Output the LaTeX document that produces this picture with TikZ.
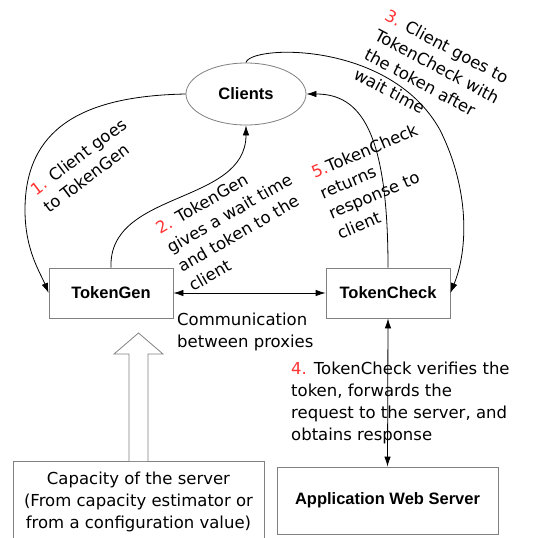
\documentclass[tikz,border=0pt]{standalone}
\usepackage{fontspec}
\setmainfont{DejaVu Sans}
\newfontfamily\boxfont{Liberation Sans}
\usetikzlibrary{shapes.geometric,arrows.meta}
\definecolor{numred}{RGB}{255,51,51}
\definecolor{edgegray}{RGB}{128,128,128}
\newcommand{\num}[1]{\textcolor{numred}{#1}}
\begin{document}
\begin{tikzpicture}[x=1pt,y=-1pt,
  procbox/.style={draw=edgegray, line width=0.8pt, minimum width=124pt, minimum height=50pt, inner sep=0pt, font=\boxfont\bfseries\fontsize{16.5}{20}\selectfont},
  lbl/.style={inner sep=0pt, font=\fontsize{16.5}{22}\selectfont, align=left},
  conn/.style={line width=0.8pt, -{Latex[length=10pt,width=6.5pt]}},
  dbl/.style={line width=0.8pt, {Latex[length=10pt,width=6.5pt]}-{Latex[length=10pt,width=6.5pt]}},
  ]
\useasboundingbox (0,0) rectangle (535,538);

% nodes
\node[ellipse, draw=edgegray, line width=0.8pt, minimum width=120pt, minimum height=62pt, inner sep=0pt,
      font=\boxfont\bfseries\fontsize{16.5}{20}\selectfont] (clients) at (246,94) {Clients};
\node[procbox] (tg) at (111,293) {TokenGen};
\node[procbox] (tc) at (388,293) {TokenCheck};
\node[procbox, minimum width=221pt, minimum height=67pt] (app) at (387.5,500.5) {Application Web Server};

% capacity box (bottom cut off by the page)
\draw[edgegray, line width=0.8pt] (13,545) -- (13,461) -- (264,461) -- (264,545);
\node[lbl, align=center] (cap) at (138.5,501.5) {Capacity of the server\\(From capacity estimator or\\from a configuration value)};

% hollow arrow
\draw[edgegray, fill=white, line width=0.8pt] (129,461) -- (129,354) -- (114,354) -- (138.5,333) -- (163,354) -- (148,354) -- (148,461);

% connectors
\draw[conn] (clients.west) .. controls (80,96) and (25,130) .. (25,210) .. controls (25,250) and (40,272) .. (tg.west);
\draw[conn] (tg.north) .. controls (108,190) and (246,205) .. (clients.south);
\draw[conn] (clients.north) .. controls (250,45) and (390,40) .. (440,130) .. controls (470,190) and (468,250) .. (tc.east);
\draw[conn] (tc.north) .. controls (388,130) and (360,94) .. (clients.east);
\draw[dbl] (tg.east) -- (tc.west);
\draw[dbl] (tc.south) -- (app.north);

% labels
\node[lbl, rotate=37] (l1) at (85,165.5) {\num{1.} Client goes\\to TokenGen};
\node[lbl, rotate=30] (l2) at (234.8,222.7) {\num{2.} TokenGen\\gives a wait time\\and token to the\\client};
\node[lbl, rotate=-28] (l3) at (432,76) {\num{3.} Client goes to\\TokenCheck with\\the token after\\wait time};
\node[lbl, rotate=23] (l5) at (377.3,181.4) {\num{5.}TokenCheck\\returns\\response to\\client};
\node[lbl, anchor=west] (l4) at (291,403) {\num{4.} TokenCheck verifies the\\token, forwards the\\request to the server, and\\obtains response};
\node[lbl, anchor=west] (comm) at (177,331.5) {Communication\\between proxies};
\end{tikzpicture}
\end{document}
